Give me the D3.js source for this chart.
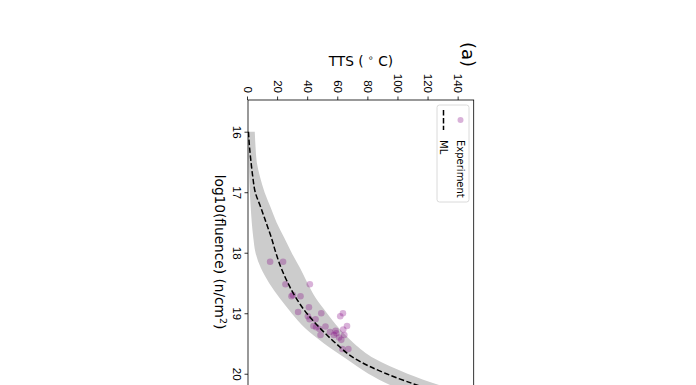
<!DOCTYPE html>
<html>
<head>
<meta charset="utf-8">
<script src="https://cdn.jsdelivr.net/npm/d3@7"></script>
<style>
    body { margin: 0; background: #fff; }
    svg { font-family: "DejaVu Sans", sans-serif; }
    .axis text { font-size: 11.5px; fill: #000; }
    .axis path, .axis line { stroke: #000; stroke-width: 0.8; }
</style>
</head>
<body>
<div id="chart"></div>
<script>
// log10(fluence) grid for the ML curve and its band
const fluence_grid = [16.0, 16.25, 16.5, 16.75, 17.0, 17.25, 17.5, 17.75, 18.0, 18.25, 18.5,
    18.75, 19.0, 19.25, 19.5, 19.75, 20.0, 20.25, 20.5];
const ml_tts = [0.3, 1.0, 2.0, 3.2, 4.8, 8.5, 12, 15.5, 18.5, 22, 26.5,
    32, 39, 48, 58.5, 71, 92, 120, 155];
const band_low = [0, 0.2, 0.5, 0.8, 1.2, 1.8, 2.5, 3.5, 5.0, 8.5, 14,
    21, 29, 38, 50.5, 65, 80, 100, 125];
const band_high = [4.5, 5.0, 5.8, 8, 11, 15, 19, 24, 29, 34.5, 39.5,
    45, 52.5, 60.5, 70.5, 84, 106, 135, 170];

// experiment points
const exp_fluence = [18.15, 18.15, 18.52, 18.52, 18.72, 18.70, 18.72, 18.90, 18.98, 19.00, 19.05,
    19.10, 19.10, 19.05, 19.00, 19.21, 19.23, 19.26, 19.36, 19.22, 19.29, 19.33, 19.27, 19.21,
    19.36, 19.40, 19.44, 19.59, 19.59, 19.36, 19.31];
const exp_tts = [14.7, 23.3, 24.9, 41.1, 28.9, 29.8, 34.9, 40.5, 33.3, 48.7, 39.8,
    40.9, 44.9, 61.3, 63.1, 43.5, 45.3, 47.5, 48.2, 51.5, 58.2, 58.7, 63.3, 65.8,
    64.0, 60.5, 62.0, 62.7, 66.7, 57.1, 54.5];

const x_ticks = [16, 17, 18, 19, 20];
const y_ticks = [0, 20, 40, 60, 80, 100, 120, 140];

const W = 304, H = 225.7;

const svg = d3.select("#chart")
    .append("svg")
    .attr("width", 696)
    .attr("height", 385);

// the whole figure is turned a quarter turn clockwise
const g = svg.append("g")
    .attr("transform", "translate(473.7,100) rotate(90)");

const x = d3.scaleLinear().domain([15.476, 20.5]).range([0, W]);
const y = d3.scaleLinear().domain([0, 150]).range([H, 0]);

g.append("clipPath").attr("id", "clip")
    .append("rect").attr("width", W).attr("height", H);

const plot = g.append("g").attr("clip-path", "url(#clip)");

/* band */
const rows = fluence_grid.map(function(f, i) {
    return {f: f, ml: ml_tts[i], lo: band_low[i], hi: band_high[i]};
});

plot.append("path")
    .datum(rows)
    .attr("fill", "#cccccc")
    .attr("d", d3.area()
        .x(function(d) { return x(d.f); })
        .y0(function(d) { return y(d.lo); })
        .y1(function(d) { return y(d.hi); })
        .curve(d3.curveMonotoneX));

/* points */
plot.selectAll(".pt")
    .data(exp_fluence.map(function(f, i) { return {f: f, t: exp_tts[i]}; }))
    .enter().append("circle")
    .attr("class", "pt")
    .attr("cx", function(d) { return x(d.f); })
    .attr("cy", function(d) { return y(d.t); })
    .attr("r", 3.3)
    .attr("fill", "#800080")
    .attr("fill-opacity", 0.3);

/* ML line */
plot.append("path")
    .datum(rows)
    .attr("fill", "none")
    .attr("stroke", "#000")
    .attr("stroke-width", 1.5)
    .attr("stroke-dasharray", "5.5,2.4")
    .attr("d", d3.line()
        .x(function(d) { return x(d.f); })
        .y(function(d) { return y(d.ml); })
        .curve(d3.curveMonotoneX));

/* axes */
g.append("g")
    .attr("class", "axis")
    .attr("transform", "translate(0," + H + ")")
    .call(d3.axisBottom(x).tickValues(x_ticks).tickSize(3.5).tickPadding(3.5).tickFormat(d3.format("d")))
    .call(function(a) { a.select(".domain").remove(); });

g.append("g")
    .attr("class", "axis")
    .call(d3.axisLeft(y).tickValues(y_ticks).tickSize(3.5).tickPadding(3.5).tickFormat(d3.format("d")))
    .call(function(a) { a.select(".domain").remove(); });

g.append("rect")
    .attr("width", W).attr("height", H)
    .attr("fill", "none")
    .attr("stroke", "#000")
    .attr("stroke-width", 0.8);

/* labels */
const xl = g.append("text")
    .attr("x", W / 2)
    .attr("y", 258.7)
    .attr("text-anchor", "middle")
    .attr("font-size", "13.7px")
    .text("log10(fluence) (n/cm");
xl.append("tspan").attr("baseline-shift", "super").attr("font-size", "9.5px").text("2");
xl.append("tspan").text(")");

const yl = g.append("text")
    .attr("transform", "translate(-34," + (H / 2) + ") rotate(-90)")
    .attr("text-anchor", "middle")
    .attr("font-size", "13.7px")
    .text("TTS ( ");
yl.append("tspan").attr("baseline-shift", "super").attr("font-size", "9.5px").text("∘");
yl.append("tspan").text(" C)");

g.append("text")
    .attr("x", -58)
    .attr("y", 12)
    .attr("font-size", "18px")
    .text("(a)");

/* legend */
const lg = g.append("g").attr("transform", "translate(5,4.7)");
lg.append("rect")
    .attr("width", 97).attr("height", 32)
    .attr("rx", 2.5)
    .attr("fill", "#fff").attr("fill-opacity", 0.8)
    .attr("stroke", "#d0d0d0").attr("stroke-width", 0.8);
lg.append("circle")
    .attr("cx", 15).attr("cy", 8.5).attr("r", 3)
    .attr("fill", "#800080").attr("fill-opacity", 0.3);
lg.append("line")
    .attr("x1", 5).attr("x2", 25).attr("y1", 25.5).attr("y2", 25.5)
    .attr("stroke", "#000").attr("stroke-width", 1.5)
    .attr("stroke-dasharray", "5.5,2.4");
lg.append("text")
    .attr("x", 35).attr("y", 8.5).attr("dy", "0.35em")
    .attr("font-size", "10px")
    .text("Experiment");
lg.append("text")
    .attr("x", 35).attr("y", 25.5).attr("dy", "0.35em")
    .attr("font-size", "10px")
    .text("ML");
</script>
</body>
</html>
